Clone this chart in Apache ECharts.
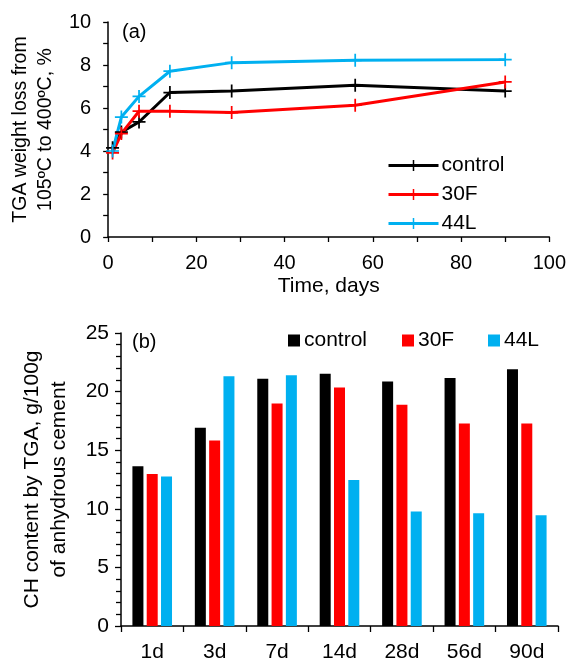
<!DOCTYPE html>
<html>
<head>
<meta charset="utf-8">
<script src="https://cdn.jsdelivr.net/npm/echarts@6/dist/echarts.min.js"></script>
<style>
  html, body { margin: 0; padding: 0; background: #fff; }
  #chart { width: 569px; height: 663px; }
</style>
</head>
<body>
<div id="chart"></div>
<script>
// (a) TGA weight loss vs time
const days = [1, 3, 7, 14, 28, 56, 90]
const lossControl = [4.15, 4.88, 5.35, 6.72, 6.79, 7.06, 6.79]
const loss30F = [3.91, 4.81, 5.85, 5.85, 5.79, 6.13, 7.21]
const loss44L = [4.0, 5.58, 6.54, 7.71, 8.11, 8.22, 8.25]

// (b) CH content by age
const ages = ['1d', '3d', '7d', '14d', '28d', '56d', '90d']
const chControl = [13.64, 16.91, 21.09, 21.52, 20.86, 21.17, 21.91]
const ch30F = [12.96, 15.83, 18.99, 20.35, 18.87, 17.28, 17.28]
const ch44L = [12.76, 21.31, 21.40, 12.45, 9.78, 9.61, 9.46]

const names = ['control', '30F', '44L']
const colors = ['#000000', '#FF0000', '#00B0F0']

const FONT = 'Liberation Sans'
const crossPath = 'path://M5.2,0h1.6v5.2h5.2v1.6h-5.2v5.2h-1.6v-5.2h-5.2v-1.6h5.2z'

const chart = echarts.init(document.getElementById('chart'))

const axisLine = { lineStyle: { color: '#000', width: 1.5 } }
const tickStyle = { color: '#000', width: 1.3 }

function lineSeries(name, values, color) {
  return {
    name,
    type: 'line',
    xAxisIndex: 0,
    yAxisIndex: 0,
    data: days.map((d, i) => [d, values[i]]),
    symbol: crossPath,
    symbolSize: 13,
    itemStyle: { color },
    lineStyle: { color, width: 3 },
    emphasis: { disabled: true },
    animation: false,
  }
}

function barSeries(name, values, color) {
  return {
    name,
    type: 'bar',
    xAxisIndex: 1,
    yAxisIndex: 1,
    data: values,
    barWidth: 11,
    barGap: '30%',
    itemStyle: { color },
    animation: false,
  }
}

// bar legend: one legend per entry so each sits where the original has it
const barLegendLeft = [288, 402, 488]
const barLegends = names.map((n, i) => ({
  data: [{ name: n, icon: 'rect', itemStyle: { color: colors[i] } }],
  left: barLegendLeft[i],
  top: 330,
  padding: 0,
  itemWidth: 12,
  itemHeight: 12,
  textStyle: { fontFamily: FONT, fontSize: 21, color: '#000', padding: [0, 0, 0, -1] },
  selectedMode: false,
}))

const option = {
  textStyle: { fontFamily: FONT, color: '#000' },
  grid: [
    { left: 106, top: 22, width: 444, height: 215 },
    { left: 121, top: 333, width: 437, height: 294 },
  ],
  legend: [
    {
      data: names.map((n, i) => ({ name: n, lineStyle: { width: 3, color: colors[i] } })),
      orient: 'vertical',
      left: 387,
      top: 155,
      padding: 0,
      itemWidth: 50,
      itemHeight: 14,
      itemGap: 8,
      textStyle: { fontFamily: FONT, fontSize: 21, color: '#000', padding: [0, 0, 0, -2] },
      selectedMode: false,
    },
    ...barLegends,
  ],
  graphic: [
    { type: 'text', left: 122, top: 22, style: { text: '(a)', font: '20px ' + FONT, fill: '#000' } },
    { type: 'text', left: 132, top: 332, style: { text: '(b)', font: '20px ' + FONT, fill: '#000' } },
  ],
  xAxis: [
    {
      type: 'value',
      gridIndex: 0,
      min: 0,
      max: 100,
      interval: 20,
      name: 'Time, days',
      nameLocation: 'middle',
      nameGap: 39,
      nameTextStyle: { fontSize: 21, color: '#000' },
      axisLine,
      axisTick: { show: true, length: 5, lineStyle: tickStyle },
      minorTick: { show: true, splitNumber: 2, length: 5, lineStyle: tickStyle },
      axisLabel: { fontSize: 20, color: '#000', margin: 16 },
      splitLine: { show: false },
    },
    {
      type: 'category',
      gridIndex: 1,
      data: ages,
      axisLine,
      axisTick: { show: true, length: 6, lineStyle: tickStyle },
      axisLabel: { fontSize: 21, color: '#000', margin: 16 },
    },
  ],
  yAxis: [
    {
      type: 'value',
      gridIndex: 0,
      min: 0,
      max: 10,
      interval: 2,
      name: 'TGA weight loss from\n105ºC to 400ºC, %',
      nameLocation: 'middle',
      nameRotate: 90,
      nameGap: 49,
      nameTextStyle: { fontSize: 19.5, color: '#000', lineHeight: 25, align: 'center' },
      axisLine: { show: true, ...axisLine },
      axisTick: { show: true, length: 5, lineStyle: tickStyle },
      minorTick: { show: true, splitNumber: 2, length: 5, lineStyle: tickStyle },
      axisLabel: { fontSize: 20, color: '#000', margin: 17 },
      splitLine: { show: false },
    },
    {
      type: 'value',
      gridIndex: 1,
      min: 0,
      max: 25,
      interval: 5,
      name: 'CH content by TGA, g/100g\nof anhydrous cement',
      nameLocation: 'middle',
      nameRotate: 90,
      nameGap: 48,
      nameTextStyle: { fontSize: 21, color: '#000', lineHeight: 27, align: 'center' },
      axisLine: { show: true, ...axisLine },
      axisTick: { show: true, length: 6, lineStyle: tickStyle },
      minorTick: { show: true, splitNumber: 5, length: 5, lineStyle: tickStyle },
      axisLabel: { fontSize: 21, color: '#000', margin: 12 },
      splitLine: { show: false },
    },
  ],
  series: [
    lineSeries(names[0], lossControl, colors[0]),
    lineSeries(names[1], loss30F, colors[1]),
    lineSeries(names[2], loss44L, colors[2]),
    barSeries(names[0], chControl, colors[0]),
    barSeries(names[1], ch30F, colors[1]),
    barSeries(names[2], ch44L, colors[2]),
  ],
}

chart.setOption(option)
</script>
</body>
</html>
